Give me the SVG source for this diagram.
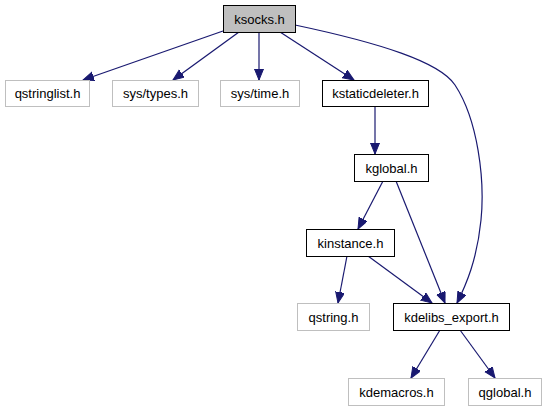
<svg xmlns="http://www.w3.org/2000/svg" width="545" height="411" viewBox="0 0 545 411">
<defs>
<marker id="arr" markerUnits="userSpaceOnUse" markerWidth="12" markerHeight="10" refX="11" refY="4.5" orient="auto">
<path d="M0,0 L11,4.5 L0,9 Z" fill="#191970" stroke="#191970" stroke-width="1"/>
</marker>
<style>
.n rect{fill:#fff;stroke:#000;stroke-width:1}
.g rect{fill:#fff;stroke:#bfbfbf;stroke-width:1}
.root rect{fill:#bfbfbf;stroke:#000;stroke-width:1}
text{font-family:"Liberation Sans",Arial,sans-serif;font-size:13px;fill:#000;text-anchor:middle}
.e path{fill:none;stroke:#191970;stroke-width:1.2;marker-end:url(#arr)}
</style>
</defs>
<rect width="545" height="411" fill="#fff"/>
<g id="edges" class="e">
<path d="M223,31 L83,80"/>
<path d="M239,32 L173,80"/>
<path d="M259,32 L259,80"/>
<path d="M280,32 L354,80"/>
<path d="M295,25 C380,43 440,62 455,85 C478,120 485,180 481,220 C477,260 466,285 457,303"/>
<path d="M375,106 L375,154"/>
<path d="M383,181 L358,229"/>
<path d="M396,181 L445,303"/>
<path d="M347,256 L338,303"/>
<path d="M368,256 L432,303"/>
<path d="M440,330 L411,378"/>
<path d="M460,330 L495,378"/>
</g>
<g id="ksocks" class="root"><rect x="223.5" y="5.5" width="72" height="27"/><text x="259.5" y="23.5">ksocks.h</text></g>
<g id="qstringlist" class="g"><rect x="5.5" y="80.5" width="84" height="26"/><text x="47.5" y="98">qstringlist.h</text></g>
<g id="systypes" class="g"><rect x="112.5" y="80.5" width="86" height="26"/><text x="155.5" y="98">sys/types.h</text></g>
<g id="systime" class="g"><rect x="220.5" y="80.5" width="79" height="26"/><text x="260" y="98">sys/time.h</text></g>
<g id="kstaticdeleter" class="n"><rect x="322.5" y="80.5" width="106" height="26"/><text x="375.5" y="98">kstaticdeleter.h</text></g>
<g id="kglobal" class="n"><rect x="354.5" y="154.5" width="74" height="27"/><text x="391.5" y="172.5">kglobal.h</text></g>
<g id="kinstance" class="n"><rect x="306.5" y="229.5" width="88" height="27"/><text x="350.5" y="247.5">kinstance.h</text></g>
<g id="qstring" class="g"><rect x="297.5" y="303.5" width="72" height="27"/><text x="333.5" y="321.5">qstring.h</text></g>
<g id="kdelibs_export" class="n"><rect x="393.5" y="303.5" width="116" height="27"/><text x="451.5" y="321.5">kdelibs_export.h</text></g>
<g id="kdemacros" class="g"><rect x="348.5" y="378.5" width="96" height="27"/><text x="396.5" y="396.5">kdemacros.h</text></g>
<g id="qglobal" class="g"><rect x="468.5" y="378.5" width="73" height="27"/><text x="505" y="396.5">qglobal.h</text></g>
</svg>
